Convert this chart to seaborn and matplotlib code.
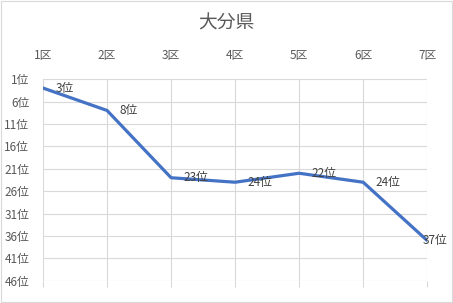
import matplotlib
matplotlib.use("Agg")
import matplotlib.pyplot as plt
import seaborn as sns
import pandas as pd

districts = ["1区", "2区", "3区", "4区", "5区", "6区", "7区"]
ranks = [3, 8, 23, 24, 22, 24, 37]
rank_ticks = [1, 6, 11, 16, 21, 26, 31, 36, 41, 46]
title = "大分県"

sns.set_theme(style="white")
plt.rcParams['font.family'] = ['Noto Sans CJK JP', 'DejaVu Sans']

df = pd.DataFrame({"district": districts, "rank": ranks, "x": range(len(districts))})

fig = plt.figure(figsize=(4.53, 3.03), dpi=100)
fig.patch.set_facecolor("white")
ax = fig.add_axes([0.095, 0.073, 0.848, 0.666])

grid_c = "#d9d9d9"
text_c = "#595959"

sns.lineplot(data=df, x="x", y="rank", ax=ax, color="#4472C4", linewidth=2.3, legend=False)

ax.set_xlim(0, len(districts) - 1)
ax.set_ylim(46, 1)
ax.set_yticks(rank_ticks)
ax.set_yticklabels([f"{r}位" for r in rank_ticks], color=text_c, fontsize=8.5)
ax.set_xticks(range(len(districts)))
ax.set_xticklabels(districts, color=text_c, fontsize=8.5)
ax.xaxis.tick_top()
ax.tick_params(axis="x", top=False, bottom=True, labeltop=True, labelbottom=False,
               length=4, color=grid_c, width=0.8, pad=8)
ax.tick_params(axis="y", left=False, pad=4)
ax.grid(True, color=grid_c, linewidth=0.8)
for s in ax.spines.values():
    s.set_visible(False)
ax.set_xlabel("")
ax.set_ylabel("")

for i, r in enumerate(ranks):
    off = 9 if i < len(ranks) - 1 else -3
    ax.annotate(f"{r}位", (i, r), xytext=(off, 0), textcoords="offset points",
                ha="left", va="center", fontsize=8.5, color="#404040")

fig.text(0.5, 0.925, title, ha="center", va="center", fontsize=13.5, color=text_c)

border = plt.Rectangle((0.002, 0.003), 0.995, 0.994, transform=fig.transFigure,
                       fill=False, edgecolor="#d9d9d9", linewidth=0.8)
fig.patches.append(border)

fig.savefig("out.png", dpi=100)
